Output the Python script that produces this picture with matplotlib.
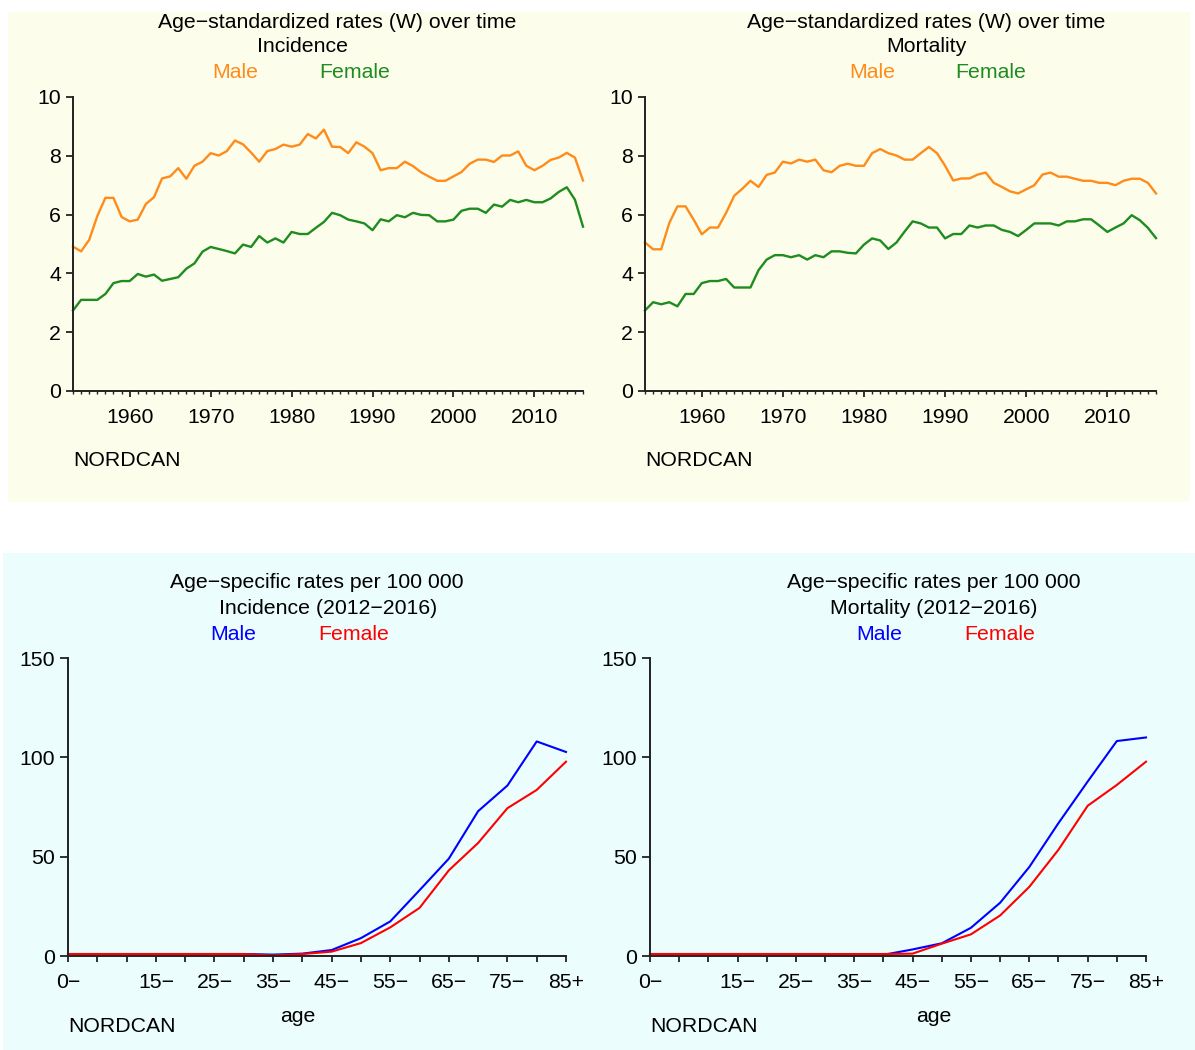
import matplotlib
matplotlib.use('Agg')
import matplotlib.pyplot as plt
from matplotlib.patches import Rectangle
from matplotlib.ticker import MultipleLocator

# ---------------- data ----------------
years = list(range(1953, 2017))

inc_male = [4.91, 4.75, 5.14, 5.95, 6.57, 6.57, 5.92, 5.77, 5.83, 6.36,
            6.59, 7.23, 7.30, 7.58, 7.22, 7.66, 7.80, 8.09, 8.01, 8.16,
            8.52, 8.39, 8.11, 7.80, 8.16, 8.23, 8.38, 8.31, 8.38, 8.74,
            8.59, 8.89, 8.31, 8.30, 8.09, 8.46, 8.31, 8.09, 7.51, 7.58,
            7.58, 7.80, 7.65, 7.44, 7.29, 7.15, 7.15, 7.30, 7.45, 7.73,
            7.87, 7.87, 7.79, 8.01, 8.01, 8.15, 7.66, 7.51, 7.66, 7.86,
            7.94, 8.10, 7.94, 7.16]
inc_female = [2.74, 3.10, 3.10, 3.10, 3.30, 3.67, 3.74, 3.74, 3.98, 3.89,
              3.96, 3.75, 3.81, 3.87, 4.16, 4.34, 4.74, 4.90, 4.83, 4.76,
              4.68, 4.98, 4.90, 5.27, 5.05, 5.19, 5.05, 5.41, 5.34, 5.34,
              5.55, 5.75, 6.06, 5.98, 5.83, 5.77, 5.70, 5.47, 5.84, 5.77,
              5.98, 5.91, 6.06, 5.99, 5.98, 5.77, 5.77, 5.83, 6.13, 6.20,
              6.20, 6.06, 6.34, 6.27, 6.50, 6.42, 6.50, 6.42, 6.42, 6.55,
              6.77, 6.93, 6.51, 5.59]
mort_male = [5.05, 4.82, 4.82, 5.72, 6.28, 6.28, 5.83, 5.33, 5.56, 5.56,
             6.06, 6.64, 6.88, 7.15, 6.94, 7.35, 7.43, 7.80, 7.74, 7.87,
             7.80, 7.87, 7.51, 7.44, 7.66, 7.73, 7.66, 7.66, 8.09, 8.23,
             8.09, 8.01, 7.87, 7.87, 8.09, 8.30, 8.09, 7.66, 7.16, 7.23,
             7.23, 7.36, 7.43, 7.08, 6.94, 6.79, 6.72, 6.86, 7.00, 7.36,
             7.43, 7.29, 7.29, 7.22, 7.15, 7.15, 7.08, 7.08, 7.00, 7.15,
             7.22, 7.22, 7.08, 6.72]
mort_female = [2.74, 3.02, 2.95, 3.02, 2.88, 3.30, 3.30, 3.67, 3.74, 3.74,
               3.81, 3.52, 3.52, 3.52, 4.11, 4.47, 4.62, 4.62, 4.55, 4.62,
               4.47, 4.62, 4.55, 4.75, 4.75, 4.70, 4.68, 4.98, 5.19, 5.12,
               4.83, 5.05, 5.42, 5.77, 5.70, 5.56, 5.56, 5.19, 5.34, 5.34,
               5.63, 5.56, 5.63, 5.63, 5.48, 5.41, 5.27, 5.48, 5.70, 5.70,
               5.70, 5.63, 5.77, 5.77, 5.84, 5.84, 5.63, 5.41, 5.56, 5.70,
               5.98, 5.81, 5.55, 5.20]

age_groups = ["0\u2212", "5\u2212", "10\u2212", "15\u2212", "20\u2212", "25\u2212",
              "30\u2212", "35\u2212", "40\u2212", "45\u2212", "50\u2212", "55\u2212",
              "60\u2212", "65\u2212", "70\u2212", "75\u2212", "80\u2212", "85+"]
shown_age_labels = ["0\u2212", "15\u2212", "25\u2212", "35\u2212", "45\u2212",
                    "55\u2212", "65\u2212", "75\u2212", "85+"]
age_inc_male = [1.0, 1.0, 1.0, 1.0, 1.0, 1.0, 1.0, 0.7, 1.2, 3.0, 9.0, 17.4,
                33.1, 49.0, 72.9, 85.8, 108.0, 102.7]
age_inc_female = [1.0, 1.0, 1.0, 1.0, 1.0, 1.0, 1.0, 0.3, 1.0, 2.2, 6.5, 14.4,
                  24.2, 43.1, 56.9, 74.4, 83.6, 97.8]
age_mort_male = [1.0, 1.0, 1.0, 1.0, 1.0, 1.0, 1.0, 0.3, 0.6, 3.3, 6.4, 14.2,
                 26.8, 44.8, 66.9, 87.8, 108.2, 110.0]
age_mort_female = [1.0, 1.0, 1.0, 1.0, 1.0, 1.0, 1.0, 1.0, 1.0, 1.2, 6.2, 10.9,
                   20.4, 34.8, 53.5, 75.6, 86.1, 97.8]

# ---------------- style ----------------
W, H = 1195, 1050
plt.rcParams['font.family'] = ['Liberation Sans', 'DejaVu Sans']
FS = 15.3
ORANGE = '#FF8C1A'
GREEN = '#1E8C1E'
BLUE = '#0000FF'
RED = '#FF0000'

fig = plt.figure(figsize=(W / 100, H / 100), dpi=100)


def rect(l, t, r, b):
    return [l / W, 1 - b / H, (r - l) / W, (b - t) / H]


def ftext(x, y, s, color='black', ha='center'):
    fig.text(x / W, 1 - y / H, s, ha=ha, va='center', fontsize=FS, color=color)


fig.patches.append(Rectangle((8 / W, 1 - 502 / H), (1190 - 8) / W, (502 - 12) / H,
                             transform=fig.transFigure, facecolor='#FDFDEC',
                             edgecolor='none', zorder=-10))
fig.patches.append(Rectangle((3 / W, 0), (1195 - 3) / W, (1050 - 553) / H,
                             transform=fig.transFigure, facecolor='#EBFDFD',
                             edgecolor='none', zorder=-10))


def style_axes(ax):
    ax.set_facecolor('none')
    for s in ['top', 'right']:
        ax.spines[s].set_visible(False)
    for s in ['left', 'bottom']:
        ax.spines[s].set_linewidth(1.4)
        ax.spines[s].set_color('#222222')


def top_panel(box, male, female):
    ax = fig.add_axes(rect(*box))
    style_axes(ax)
    ax.plot(years, male, color=ORANGE, lw=1.7, clip_on=False)
    ax.plot(years, female, color=GREEN, lw=1.7, clip_on=False)
    ax.set_xlim(1953, 2016)
    ax.set_ylim(0, 10)
    ax.set_yticks([0, 2, 4, 6, 8, 10])
    ax.set_xticks([1960, 1970, 1980, 1990, 2000, 2010])
    ax.xaxis.set_minor_locator(MultipleLocator(1))
    ax.tick_params(axis='y', length=5, width=1.3, pad=3.5, labelsize=FS, colors='#222222',
                   labelcolor='black')
    ax.tick_params(axis='x', which='major', length=4.5, width=1.3, pad=8,
                   labelsize=FS, colors='#222222', labelcolor='black')
    ax.tick_params(axis='x', which='minor', length=2.2, width=1.0, colors='#222222')
    return ax


def bottom_panel(box, male, female):
    ax = fig.add_axes(rect(*box))
    style_axes(ax)
    x = list(range(len(age_groups)))
    ax.plot(x, male, color=BLUE, lw=1.5, clip_on=False)
    ax.plot(x, female, color=RED, lw=1.5, clip_on=False)
    ax.set_xlim(0, len(age_groups) - 1)
    ax.set_ylim(0, 150)
    ax.set_yticks([0, 50, 100, 150])
    ax.set_xticks(x)
    ax.set_xticklabels([g if g in shown_age_labels else '' for g in age_groups])
    ax.tick_params(axis='y', length=6, width=1.3, pad=3.5, labelsize=FS, colors='#222222',
                   labelcolor='black')
    ax.tick_params(axis='x', length=4.5, width=1.3, pad=8, labelsize=FS,
                   colors='#222222', labelcolor='black')
    return ax


top_panel((73, 97, 583, 391), inc_male, inc_female)
top_panel((645, 97, 1156, 391), mort_male, mort_female)
bottom_panel((68, 658, 566, 956), age_inc_male, age_inc_female)
bottom_panel((650, 658, 1146, 956), age_mort_male, age_mort_female)

# titles / legends
ftext(337, 22, "Age\u2212standardized rates (W) over time")
ftext(303, 47, "Incidence")
ftext(235, 73, "Male", ORANGE)
ftext(355, 73, "Female", GREEN)
ftext(926, 22, "Age\u2212standardized rates (W) over time")
ftext(926, 47, "Mortality")
ftext(872, 73, "Male", ORANGE)
ftext(991, 73, "Female", GREEN)

ftext(317, 582, "Age\u2212specific rates per 100 000")
ftext(328, 608, "Incidence (2012\u22122016)")
ftext(233, 634, "Male", BLUE)
ftext(354, 634, "Female", RED)
ftext(934, 582, "Age\u2212specific rates per 100 000")
ftext(934, 608, "Mortality (2012\u22122016)")
ftext(879, 634, "Male", BLUE)
ftext(1000, 634, "Female", RED)

ftext(73, 460, "NORDCAN", ha='left')
ftext(645, 460, "NORDCAN", ha='left')
ftext(68, 1027, "NORDCAN", ha='left')
ftext(650, 1027, "NORDCAN", ha='left')
ftext(298, 1017, "age")
ftext(934, 1017, "age")

fig.savefig('out.png', dpi=100)
